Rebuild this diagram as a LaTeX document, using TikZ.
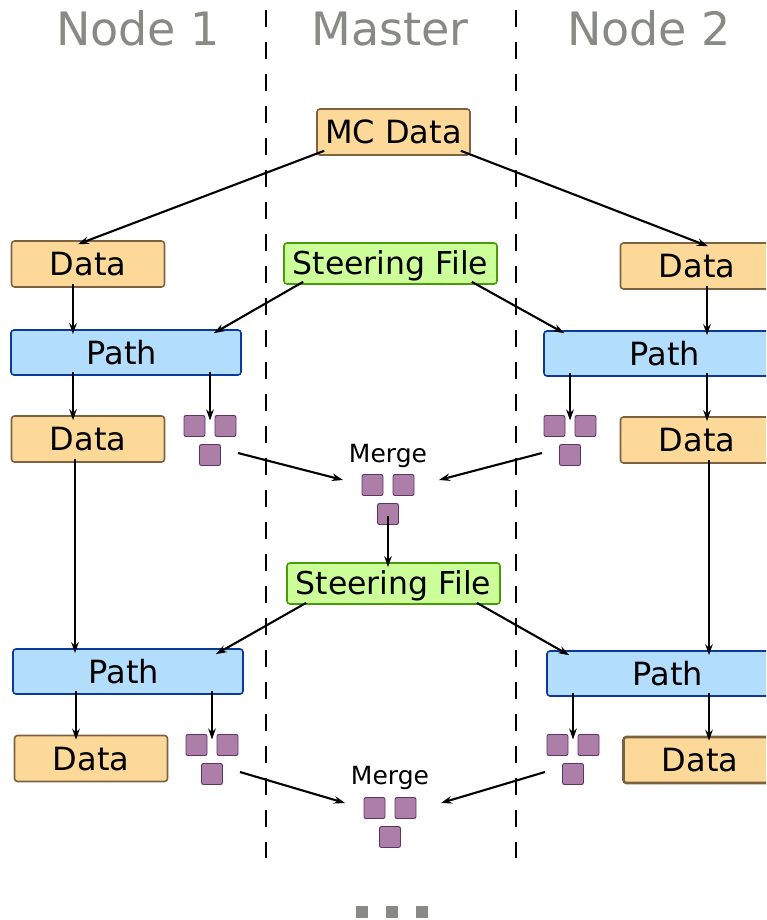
\documentclass[tikz,border=0pt]{standalone}
\usepackage{fontspec}
\setmainfont{DejaVu Sans}
\usetikzlibrary{arrows.meta,calc}
\definecolor{datafill}{HTML}{FCD899}
\definecolor{databorder}{HTML}{7D6241}
\definecolor{pathfill}{HTML}{B3DDFC}
\definecolor{pathborder}{HTML}{0B399A}
\definecolor{steerfill}{HTML}{CCFF99}
\definecolor{steerborder}{HTML}{4C9A0C}
\definecolor{chunkfill}{HTML}{AD7FA8}
\definecolor{chunkborder}{HTML}{5C3566}
\definecolor{titlegray}{HTML}{888A85}
\tikzset{
  box/.style={draw,rounded corners=3pt,line width=1.6pt,minimum height=46pt,inner sep=0pt,
    text height=23pt,text depth=0pt,font=\fontsize{32}{32}\selectfont},
  databox/.style={box,fill=datafill,draw=databorder,minimum width=153pt},
  pathbox/.style={box,fill=pathfill,draw=pathborder,minimum width=230pt,minimum height=45pt},
  steerbox/.style={box,fill=steerfill,draw=steerborder,minimum width=213pt,minimum height=41pt,
    text height=22pt,font=\fontsize{31.5}{31.5}\selectfont},
  chunk/.style={draw=chunkborder,fill=chunkfill,rounded corners=2pt,line width=0.9pt,minimum size=21pt,inner sep=0pt},
  arr/.style={-{Stealth[length=11pt,width=7.5pt]},line width=2.1pt},
  into/.style={shorten <=-4pt,shorten >=-5pt},
  lane/.style={dash pattern=on 17pt off 15pt,line width=1.2pt},
  title/.style={anchor=base,text=titlegray,font=\fontsize{46}{46}\selectfont},
  mergelbl/.style={anchor=base,font=\fontsize{25}{25}\selectfont},
  dot/.style={fill=titlegray,minimum size=12pt,inner sep=0pt},
  triple/.pic={
    \node[chunk] (-a) at (-15.5,0) {};
    \node[chunk] (-b) at (15.5,0) {};
    \node[chunk] (-c) at (0,29) {};
    \coordinate (-in) at (0,-10.5);
    \coordinate (-e) at (28,27);
    \coordinate (-w) at (-28,27);
    \coordinate (-ml) at (-45,-5);
    \coordinate (-mr) at (51,-5);
  },
}

\begin{document}
\begin{tikzpicture}[x=1pt,y=-1pt]
\clip (0,0) rectangle (766,920);
\draw[lane] (266,10) -- (266,858);
\draw[lane] (516,10) -- (516,858);
\node[title] (t1) at (138,46) {Node 1};
\node[title] (tm) at (390,46) {Master};
\node[title] (t2) at (649,46) {Node 2};

\node[databox] (mc) at (393.5,132) {MC Data};
\node[databox] (data1) at (88,264) {Data};
\node[steerbox] (steer1) at (390.5,263.5) {Steering File};
\node[databox] (dataR1) at (697,266) {Data};
\node[pathbox] (path1) at (126,352.5) {\hspace*{-8pt}Path};
\node[pathbox] (pathR1) at (659,353.5) {\hspace*{12pt}Path};
\node[databox] (data2) at (88,439) {Data};
\node[databox] (dataR2) at (697,440) {Data};
\pic (sqL1) at (210,426) {triple};
\pic (sqR1) at (570,426) {triple};
\node[mergelbl] (mlbl1) at (388,462) {Merge};
\pic (mg1) at (388,485) {triple};

\node[steerbox] (steer2) at (393.5,583.5) {Steering File};
\node[pathbox] (path2) at (128,671.5) {\hspace*{-8pt}Path};
\node[pathbox] (pathR2) at (662,673.5) {\hspace*{12pt}Path};
\node[databox] (data3) at (91,758.5) {Data};
\node[databox,line width=2.6pt] (dataR3) at (700,760) {Data};
\pic (sqL2) at (212,745) {triple};
\pic (sqR2) at (573,745) {triple};
\node[mergelbl] (mlbl2) at (390,784) {Merge};
\pic (mg2) at (390,808) {triple};

\foreach \x/\n in {362/a,392/b,422/c}
  \node[dot] (more\n) at (\x,912) {};

% first round
\draw[arr] ([xshift=8pt,yshift=5pt]mc.south west) -- ([xshift=-10pt,yshift=-4pt]data1.north);
\draw[arr] ([xshift=-10pt,yshift=5pt]mc.south east) -- ([xshift=11pt,yshift=-4pt]dataR1.north);
\draw[arr] ([xshift=20pt,yshift=3pt]steer1.south west) -- ([xshift=-28pt,yshift=-4pt]path1.north east);
\draw[arr] ([xshift=-26pt,yshift=3pt]steer1.south east) -- ([xshift=21pt,yshift=-3pt]pathR1.north west);
\draw[arr,into] ([xshift=-15pt]data1.south) -- ([xshift=-15pt]data1.south |- path1.north);
\draw[arr,into] ([xshift=10pt]dataR1.south) -- ([xshift=10pt]dataR1.south |- pathR1.north);
\draw[arr,into] ([xshift=-15pt]data2.north |- path1.south) -- ([xshift=-15pt]data2.north);
\draw[arr,into] (sqL1-in |- path1.south) -- (sqL1-in);
\draw[arr,into] (sqR1-in |- pathR1.south) -- (sqR1-in);
\draw[arr,into] ([xshift=10pt]dataR2.north |- pathR1.south) -- ([xshift=10pt]dataR2.north);
\draw[arr] (sqL1-e) -- (mg1-ml);
\draw[arr] (sqR1-w) -- (mg1-mr);
\draw[arr,into] ([yshift=5pt]mg1-c.south) -- (mg1-c.south |- steer2.north);

% second round
\draw[arr,into] ([xshift=-13pt]data2.south) -- ([xshift=-13pt]data2.south |- path2.north);
\draw[arr,into] ([xshift=12pt]dataR2.south) -- ([xshift=12pt]dataR2.south |- pathR2.north);
\draw[arr] ([xshift=20pt,yshift=2pt]steer2.south west) -- ([xshift=-28pt,yshift=-6pt]path2.north east);
\draw[arr] ([xshift=-24pt,yshift=2pt]steer2.south east) -- ([xshift=23pt,yshift=-5pt]pathR2.north west);
\draw[arr,into] ([xshift=-15pt]data3.north |- path2.south) -- ([xshift=-15pt]data3.north);
\draw[arr,into] (sqL2-in |- path2.south) -- (sqL2-in);
\draw[arr,into] (sqR2-in |- pathR2.south) -- (sqR2-in);
\draw[arr,into] ([xshift=9pt]dataR3.north |- pathR2.south) -- ([xshift=9pt]dataR3.north);
\draw[arr] (sqL2-e) -- (mg2-ml);
\draw[arr] (sqR2-w) -- (mg2-mr);
\end{tikzpicture}
\end{document}
